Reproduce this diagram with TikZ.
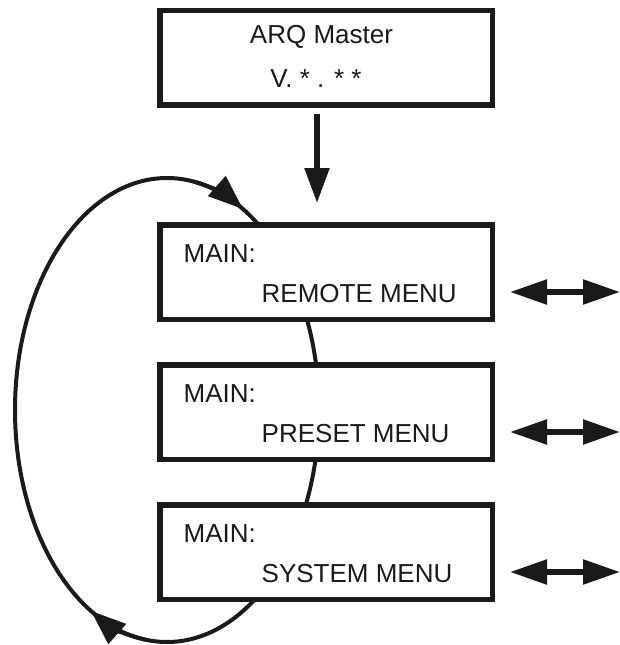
\documentclass[tikz,border=0pt]{standalone}
\usepackage{fontspec}
\setmainfont{Liberation Sans}
\usetikzlibrary{arrows.meta,calc}
\definecolor{ink}{RGB}{26,26,26}
\begin{document}
\begin{tikzpicture}[x=1pt,y=1pt,
  box/.style={draw=ink, line width=5.5pt, fill=white, minimum width=332.5pt, minimum height=94.5pt, inner sep=0pt},
  lbl/.style={anchor=base west, inner sep=0pt, text=ink, font=\fontsize{26}{31}\selectfont},
  ctr/.style={anchor=base, inner sep=0pt, text=ink, font=\fontsize{26}{31}\selectfont},
  looparc/.style={draw=ink, line width=4pt},
  looptip/.style={draw=ink, line width=4pt, -{Triangle[length=35pt,width=26pt]}},
  dbl/.style={draw=ink, line width=5.5pt, {Triangle[length=37pt,width=24pt]}-{Triangle[length=37pt,width=24pt]}},
  down/.style={draw=ink, line width=5.5pt, -{Triangle[length=35pt,width=24pt]}}
]
\useasboundingbox (0,0) rectangle (620,-645);
% loop ellipse (behind the boxes)
\coordinate (lc) at (167,-410);
\draw[looparc] (lc) ellipse [x radius=152, y radius=232];
\draw[looptip] ($(lc)+(80:152 and 232)$) arc [start angle=80, end angle=60, x radius=152, y radius=232];
\draw[looptip] ($(lc)+(262:152 and 232)$) arc [start angle=262, end angle=240, x radius=152, y radius=232];
% boxes
\node[box] (ver) at (326,-57.5) {};
\node[box] (rem) at (326,-272) {};
\node[box] (pre) at (326,-412) {};
\node[box] (sys) at (326,-552) {};
% texts
\node[ctr] (t1) at (321.5,-43) {ARQ Master};
\node[ctr] (t2) at (316,-87) {V. * . * *};
\foreach \b/\w in {rem/REMOTE MENU, pre/PRESET MENU, sys/SYSTEM MENU}{
  \node[lbl] (\b-a) at ($(\b.north west)+(26.5,-40.5)$) {MAIN:};
  \node[lbl] (\b-b) at ($(\b.north west)+(104.5,-80)$) {\w};
}
% down arrow
\coordinate (ds) at (317,-114);
\coordinate (de) at (317,-203);
\draw[down] (ds) -- (de);
% side double arrows
\coordinate (r1) at (510,-292); \coordinate (r2) at (620,-292);
\coordinate (p1) at (510,-432); \coordinate (p2) at (620,-432);
\coordinate (s1) at (510,-572); \coordinate (s2) at (620,-572);
\draw[dbl] (r1) -- (r2);
\draw[dbl] (p1) -- (p2);
\draw[dbl] (s1) -- (s2);
\end{tikzpicture}
\end{document}
